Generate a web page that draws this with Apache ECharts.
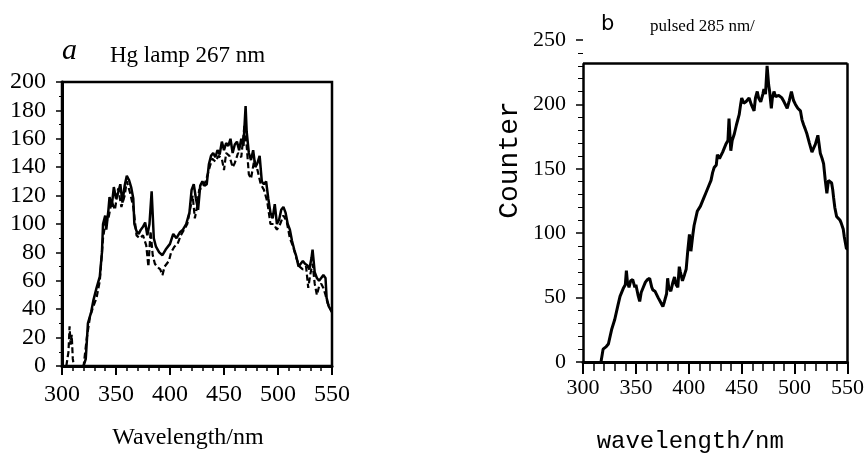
<!DOCTYPE html>
<html><head><meta charset="utf-8">
<script src="https://cdn.jsdelivr.net/npm/echarts@6/dist/echarts.min.js"></script>
<style>html,body{margin:0;padding:0;background:#fff}#c{width:867px;height:459px}</style>
</head><body><div id="c"></div>
<script>
// tick values
const xTicks = [300, 350, 400, 450, 500, 550];
const yTicksA = [0, 20, 40, 60, 80, 100, 120, 140, 160, 180, 200];
const yTicksB = [0, 50, 100, 150, 200, 250];
const frameTopB = 232;

// panel a: Hg lamp 267 nm, solid trace
const aSolidX = [320,322,324,327,329,332,335,337,338,340,341,343,344,346,348,350,352,354,356,358,360,362,364,366,367,369,371,373,375,377,379,381,383,385,387,390,393,396,400,403,406,409,412,415,418,420,422,424,426,428,430,432,434,436,438,440,442,444,446,448,450,452,454,456,458,460,462,464,466,468,470,471,473,475,477,479,481,483,485,487,489,491,493,495,497,499,501,503,505,507,509,511,513,515,517,519,521,523,525,527,529,531,532,534,536,538,540,542,544,545,547,550];
const aSolidY = [0,5,30,38,46,55,63,80,100,106,96,110,119,112,126,118,122,128,115,127,134,131,126,118,100,95,93,96,98,101,92,100,123,90,84,80,78,82,86,93,90,94,96,100,108,124,128,118,110,127,130,127,128,142,148,150,147,152,149,158,152,157,155,160,150,156,158,152,160,155,183,165,150,145,152,140,143,148,130,128,130,118,108,104,114,100,103,110,112,108,100,96,88,82,77,70,72,74,72,71,68,76,82,66,62,60,62,64,62,48,42,38];
// panel a: dashed trace
const aDashX = [304,306,307,308,309,310,311,320,323,326,329,332,335,338,340,343,346,349,352,355,358,360,363,366,369,372,375,378,380,382,384,386,388,391,393,395,397,399,401,404,407,410,413,416,419,421,423,425,427,430,433,436,439,442,445,448,450,452,455,458,460,463,466,469,471,473,475,478,481,484,487,490,493,496,499,502,505,508,511,514,517,520,523,526,528,530,532,534,536,538,540,542,544,546,550];
const aDashY = [0,10,28,15,22,5,0,0,20,35,42,48,60,90,100,104,116,110,125,112,120,130,122,112,92,90,92,85,70,95,78,72,70,68,64,70,72,74,80,84,86,92,96,100,112,120,104,112,124,126,130,138,146,144,148,146,138,150,148,140,143,150,147,170,155,135,132,145,138,128,124,116,100,100,96,100,106,102,90,84,76,70,68,70,55,65,72,58,50,56,58,55,50,44,38];

// panel b: pulsed 285 nm
const bX = [317,319,322,324,327,330,333,335,338,340,341,342,343.5,345,347,349,350,352,353.6,355,357,359,361,363,365,366,368,371,373,375.5,377,379,380,381,383,385,386.5,388,389.6,391,392,394,396,397.5,399,400.6,402,404,405,408,411,414,416,419,421,422.5,424,426,427,429,430,432,435,437,438,439.7,441,443,445,447.6,449,450,452,454,457,459,461.7,463,464.7,466,468,470,471,472.5,474,475.5,476.4,478,479,480.5,482,485,488,490,493,495,497,499,500.8,503,505.5,507,508.6,510,511.7,514,516.4,518,519.6,522,523,524.3,526,527.4,529,530.5,532,533,535,536,536.8,538,539.7,541,543,544,546,547,549,550];
const bY = [0,10,12,14,25,33,44,51,57,60,71,62,58,63,64,58,60,52,47,54,58,62,64,65,58,56,55,50,47,43,47,53,65,58,55,62,66,60,58,74,70,63,68,72,86,99,86,100,106,117,121,127,131,137,141,147,151,153,161,158,159,163,169,172,189,164,172,177,184,192,200,205,201,202,205,200,195,205,210,205,202,208,212,208,230,215,210,197,205,210,206,207,205,202,197,203,210,203,200,197,195,188,184,181,177,170,163,166,169,176,170,162,158,154,141,131,141,140,139,134,128,120,113,112,110,108,103,97,88,88];

const zip = (xs, ys) => xs.map((x, i) => [x, ys[i]]);
const serif = '"Liberation Serif", "DejaVu Serif", serif';
const mono = '"Liberation Mono", "DejaVu Sans Mono", monospace';
const xMin = xTicks[0], xMax = xTicks[xTicks.length - 1], xStep = xTicks[1] - xTicks[0];

const chart = echarts.init(document.getElementById('c'), null, {renderer: 'canvas'});
chart.setOption({
  animation: false,
  backgroundColor: '#fff',
  title: [
    {text: 'a', left: 62, top: 36, padding: 0, textStyle: {fontFamily: serif, fontStyle: 'italic', fontWeight: 'normal', fontSize: 30, color: '#000'}},
    {text: 'Hg lamp 267 nm', left: 110, top: 44, padding: 0, textStyle: {fontFamily: serif, fontWeight: 'normal', fontSize: 23, color: '#000'}},
    {text: 'b', left: 601, top: 14, padding: 0, textStyle: {fontFamily: '"DejaVu Sans", sans-serif', fontWeight: 'normal', fontSize: 21, color: '#000'}},
    {text: 'pulsed 285 nm/', left: 650, top: 18, padding: 0, textStyle: {fontFamily: serif, fontWeight: 'normal', fontSize: 17, color: '#000'}}
  ],
  graphic: [{
    type: 'text', x: 510, y: 160, rotation: Math.PI / 2,
    style: {text: 'Counter', font: '28px ' + mono, fill: '#000', align: 'center', verticalAlign: 'middle', textAlign: 'center', textVerticalAlign: 'middle'}
  }],
  grid: [
    {left: 62, top: 82, width: 270, height: 284, show: true, borderColor: '#000', borderWidth: 2.5, backgroundColor: 'transparent'},
    {left: 583, top: 40, width: 266, height: 326, show: false}
  ],
  xAxis: [
    {gridIndex: 0, type: 'value', min: xMin, max: xMax, interval: xStep,
     name: 'Wavelength/nm', nameLocation: 'middle', nameGap: 60,
     nameTextStyle: {fontFamily: serif, fontSize: 24, color: '#000', padding: [0, 18, 0, 0]},
     axisLine: {show: true, lineStyle: {color: '#000', width: 3}},
     axisTick: {show: true, inside: false, length: 9, lineStyle: {color: '#000', width: 2}},
     minorTick: {show: true, splitNumber: 5, length: 5, lineStyle: {color: '#000', width: 1.5}},
     axisLabel: {fontFamily: serif, fontSize: 24, color: '#000', margin: 17},
     splitLine: {show: false}},
    {gridIndex: 1, type: 'value', min: xMin, max: xMax, interval: xStep,
     name: 'wavelength/nm', nameLocation: 'middle', nameGap: 68,
     nameTextStyle: {fontFamily: mono, fontSize: 24, color: '#000', padding: [0, 50, 0, 0]},
     axisLine: {show: true, lineStyle: {color: '#000', width: 3}},
     axisTick: {show: true, inside: false, length: 12, lineStyle: {color: '#000', width: 2}},
     minorTick: {show: true, splitNumber: 5, length: 9, lineStyle: {color: '#000', width: 1.5}},
     axisLabel: {fontFamily: serif, fontSize: 22, color: '#000', margin: 15},
     splitLine: {show: false}},
  ],
  yAxis: [
    {gridIndex: 0, type: 'value', min: yTicksA[0], max: yTicksA[yTicksA.length - 1], interval: yTicksA[1] - yTicksA[0],
     axisLine: {show: true, lineStyle: {color: '#000', width: 3}},
     axisTick: {show: true, inside: false, length: 6, lineStyle: {color: '#000', width: 1.5}},
     minorTick: {show: true, splitNumber: 2, length: 3, lineStyle: {color: '#000', width: 1}},
     axisLabel: {fontFamily: serif, fontSize: 24, color: '#000', margin: 16},
     splitLine: {show: false}},
    {gridIndex: 1, type: 'value', min: yTicksB[0], max: yTicksB[yTicksB.length - 1], interval: yTicksB[1] - yTicksB[0],
     axisLine: {show: false},
     axisTick: {show: true, inside: false, length: 7, lineStyle: {color: '#000', width: 1.5}},
     minorTick: {show: true, splitNumber: 5, length: 5, lineStyle: {color: '#000', width: 1}},
     axisLabel: {fontFamily: serif, fontSize: 22, color: '#000', margin: 17},
     splitLine: {show: false}}
  ],
  series: [
    {type: 'line', xAxisIndex: 0, yAxisIndex: 0, data: zip(aSolidX, aSolidY), symbol: 'none', silent: true,
     lineStyle: {color: '#000', width: 2.5}},
    {type: 'line', xAxisIndex: 0, yAxisIndex: 0, data: zip(aDashX, aDashY), symbol: 'none', silent: true,
     lineStyle: {color: '#000', width: 2.2, type: [6, 3]}},
    {type: 'line', xAxisIndex: 1, yAxisIndex: 1, data: zip(bX, bY), symbol: 'none', silent: true,
     lineStyle: {color: '#000', width: 3},
     markLine: {silent: true, symbol: ['none', 'none'], label: {show: false}, emphasis: {disabled: true},
       lineStyle: {color: '#000', width: 2.5, type: 'solid'},
       data: [
         [{coord: [xMin, 0]}, {coord: [xMin, frameTopB]}],
         [{coord: [xMin, frameTopB]}, {coord: [xMax, frameTopB]}],
         [{coord: [xMax, 0]}, {coord: [xMax, frameTopB]}]
       ]}}
  ]
});
</script></body></html>
